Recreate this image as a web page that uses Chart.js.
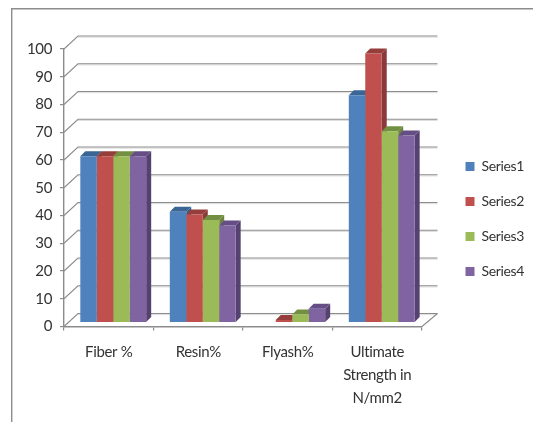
<!DOCTYPE html>
<html><head><meta charset="utf-8">
<script src="https://cdn.jsdelivr.net/npm/chart.js@4"></script>
<style>html,body{margin:0;padding:0;background:#fff;overflow:hidden}canvas{display:block;filter:blur(0.35px)}</style>
</head><body><canvas id="c" width="533" height="422" style="width:533px;height:422px"></canvas>
<script>
const categories = [["Fiber %"], ["Resin%"], ["Flyash%"], ["Ultimate", "Strength in", "N/mm2"]];
const series1 = [60, 40, 0, 82];
const series2 = [60, 39, 1, 97];
const series3 = [60, 37, 3, 69];
const series4 = [60, 35, 5, 67.5];
const yTicks = [0, 10, 20, 30, 40, 50, 60, 70, 80, 90, 100];
const fronts = ["#4F81BD", "#C0504D", "#9BBB59", "#8064A2"];
const tops = ["#3A6595", "#953E3C", "#739042", "#654E85"];
const sides = ["#385D8A", "#8A3A38", "#6B853F", "#564270"];
const font = 'Lato,"Open Sans",sans-serif';
const GRAY = "#8C8C8C";
const WALL_X = 14, WALL_Y = 13, BAR_DX = 4.5, BAR_DY = -3.8, D = 5;

const threeD = {
  id: "threeD",
  beforeLayout(chart) { chart.ctx.letterSpacing = "-0.35px"; },
  afterLayout(chart) {
    const l = chart.legend;
    const dx = 444.5 - l.left;
    l.left += dx; l.right += dx;
    l.top -= 16.5; l.bottom -= 16.5;
  },
  beforeDraw(chart) {
    const { ctx, scales: { x, y } } = chart;
    ctx.letterSpacing = "-0.35px";
    ctx.save();
    ctx.strokeStyle = GRAY; ctx.lineWidth = 1.4;
    ctx.beginPath(); ctx.moveTo(533, 8.7); ctx.lineTo(11.7, 8.7); ctx.lineTo(11.7, 422); ctx.stroke();
    yTicks.forEach(v => {
      const py = y.getPixelForValue(v);
      ctx.strokeStyle = "#DCDCDC"; ctx.lineWidth = 1;
      ctx.beginPath(); ctx.moveTo(x.left + WALL_X, py - WALL_Y + 1.2); ctx.lineTo(x.right + 15.5, py - WALL_Y + 1.2); ctx.stroke();
      ctx.strokeStyle = GRAY; ctx.lineWidth = 1.1;
      ctx.beginPath(); ctx.moveTo(x.left, py); ctx.lineTo(x.left + WALL_X, py - WALL_Y); ctx.lineTo(x.right + 15.5, py - WALL_Y); ctx.stroke();
    });
    const p0 = y.getPixelForValue(0);
    ctx.beginPath(); ctx.moveTo(x.right, p0); ctx.lineTo(x.right + 15.5, p0 - WALL_Y); ctx.stroke();
    ctx.restore();
  },
  beforeDatasetsDraw(chart) {
    const { ctx } = chart;
    ctx.save();
    ctx.translate(BAR_DX, BAR_DY);
    chart.data.datasets.forEach((ds, i) => {
      chart.getDatasetMeta(i).data.forEach((b, j) => {
        if (!ds.data[j]) return;
        const l = b.x - b.width / 2, r = b.x + b.width / 2, t = b.y, bt = b.base;
        ctx.fillStyle = sides[i];
        ctx.beginPath(); ctx.moveTo(r, t); ctx.lineTo(r + D, t - D); ctx.lineTo(r + D, bt - D); ctx.lineTo(r, bt); ctx.closePath(); ctx.fill();
        ctx.fillStyle = tops[i];
        ctx.beginPath(); ctx.moveTo(l, t); ctx.lineTo(l + D, t - D); ctx.lineTo(r + D, t - D); ctx.lineTo(r, t); ctx.closePath(); ctx.fill();
      });
    });
  },
  afterDatasetsDraw(chart) { chart.ctx.restore(); }
};

new Chart(document.getElementById("c"), {
  type: "bar",
  data: {
    labels: categories,
    datasets: [series1, series2, series3, series4].map((d, i) => ({
      label: "Series" + (i + 1), data: d, backgroundColor: fronts[i], borderWidth: 0
    }))
  },
  options: {
    responsive: false, animation: false,
    devicePixelRatio: 1,
    layout: { padding: { top: 49, right: 21.5, bottom: 0, left: 0 } },
    datasets: { bar: { barPercentage: 1, categoryPercentage: 0.736 } },
    plugins: {
      tooltip: { enabled: false },
      legend: {
        position: "right",
        labels: { boxWidth: 9, boxHeight: 9, padding: 21, color: "#333", font: { family: font, size: 14 } }
      }
    },
    scales: {
      x: {
        afterFit: s => { s.height = 95.5; },
        grid: { drawOnChartArea: false, color: GRAY, tickLength: 4, tickColor: GRAY, lineWidth: 1.2 },
        border: { color: GRAY, width: 1.4 },
        ticks: { color: "#333", padding: 10, maxRotation: 0, autoSkip: false, font: { family: font, size: 15, lineHeight: 1.55 } }
      },
      y: {
        min: 0, max: 100,
        afterFit: s => { s.width = 64; },
        afterBuildTicks: s => { s.ticks = yTicks.map(v => ({ value: v })); },
        grid: { drawOnChartArea: false, tickLength: 4, tickColor: GRAY, lineWidth: 1.2 },
        border: { color: GRAY, width: 1.4 },
        ticks: { color: "#333", padding: 8, font: { family: font, size: 15 } }
      }
    }
  },
  plugins: [threeD]
});
</script></body></html>
